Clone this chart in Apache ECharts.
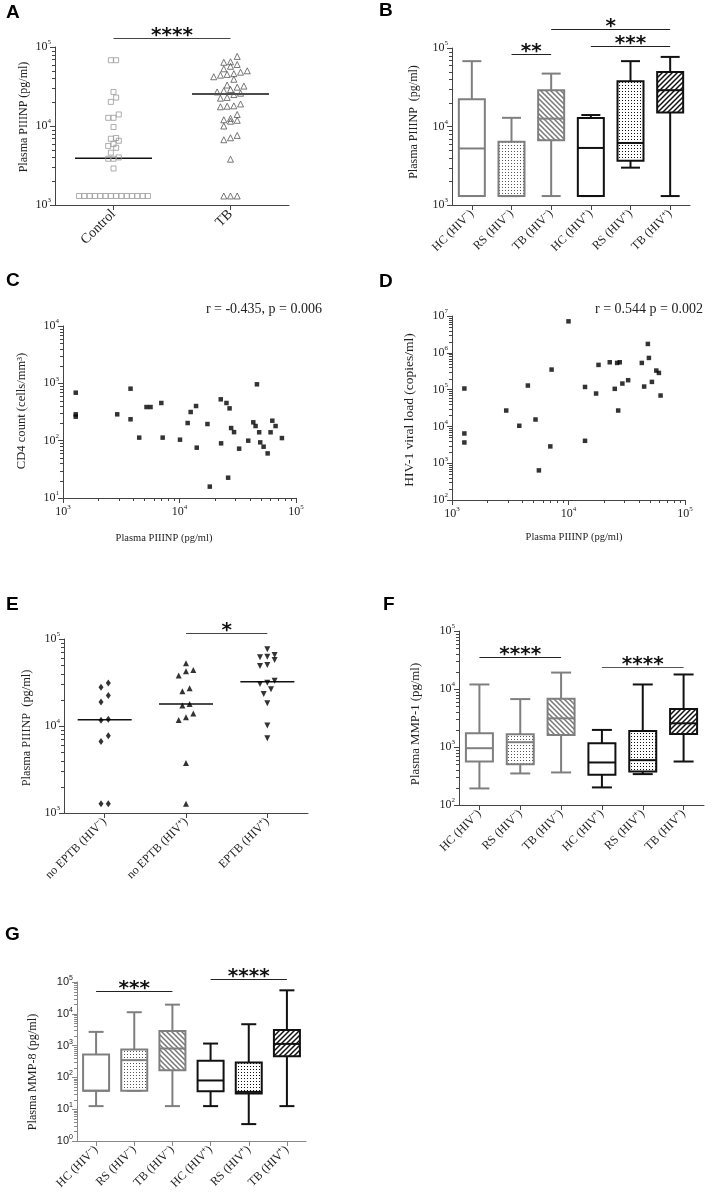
<!DOCTYPE html>
<html>
<head>
<meta charset="utf-8">
<script src="https://cdn.jsdelivr.net/npm/echarts@6/dist/echarts.min.js"></script>
<style>
html, body { margin: 0; padding: 0; background: #fff; }
#main { width: 712px; height: 1202px; }
</style>
</head>
<body>
<div id="main"></div>
<script>
// ---- data ----
var groupsA = ['Control', 'TB'];
var controlA = [68000, 68000, 27000, 22900, 20200, 14000, 12700, 12700, 9700, 7060, 6900, 6500, 5900, 5600, 5300, 4600, 4000, 3850, 3850, 2900,
    1300, 1300, 1300, 1300, 1300, 1300, 1300, 1300, 1300, 1300, 1300, 1300, 1300, 1300];
var tbA = [76000, 65000, 64000, 60000, 57000, 53000, 50000, 48000, 46000, 45000, 44000, 42000, 39000, 33000, 32000, 31000, 29000, 28000, 27000, 26000,
    25000, 23000, 22500, 19000, 18000, 17800, 17500, 14000, 12500, 12000, 11800, 11500, 10000, 7600, 7100, 6700, 3800, 1300, 1300, 1300];
var medianA = [3900, 25500];

var boxGroups = ['HC (HIV\u207B)', 'RS (HIV\u207B)', 'TB (HIV\u207B)', 'HC (HIV\u207A)', 'RS (HIV\u207A)', 'TB (HIV\u207A)'];
// [min, q1, median, q3, max]
var piiinpB = [
    [1300, 1300, 5250, 22200, 68000],
    [1300, 1300, 1300, 6400, 12900],
    [1300, 6700, 12600, 28900, 47200],
    [1300, 1300, 5330, 12800, 14000],
    [2990, 3660, 6170, 37700, 68000],
    [1300, 15100, 29000, 49500, 77000]
];

// [PIIINP, CD4]
var cd4C = [[1286, 687], [1286, 288], [1286, 262], [2920, 288], [3800, 807], [3800, 236], [4510, 113], [5210, 386], [5640, 386], [6980, 454],
    [7170, 113], [10100, 104], [11750, 203], [12470, 316], [13870, 402], [14060, 75.5], [17380, 195], [18200, 15.8], [22600, 526], [22750, 89.8],
    [25300, 454], [26150, 22.6], [26900, 366], [27750, 166], [29400, 141], [32500, 72.5], [38900, 100], [43000, 209], [45000, 180], [46200, 962],
    [48300, 140], [49300, 93.4], [52700, 78.5], [57100, 60], [60500, 140], [62600, 223], [66800, 180], [75700, 111]];

// [PIIINP, viral load]
var viralD = [[1277, 107000], [1277, 6430], [1277, 3660], [2920, 27000], [3780, 10400], [4480, 129000], [5210, 15400], [5570, 638], [6980, 2860],
    [7160, 350000], [10000, 7160000], [13860, 118000], [13860, 4060], [17250, 78200], [18100, 469000], [22600, 553000], [24950, 105000],
    [26150, 531000], [26700, 27000], [27550, 553000], [29000, 146000], [32500, 180000], [42600, 531000], [44600, 121000], [48000, 1740000],
    [49000, 726000], [52000, 162000], [56700, 329000], [59700, 284000], [61700, 69000]];

var groupsE = ['no EPTB (HIV\u207B)', 'no EPTB (HIV\u207A)', 'EPTB (HIV\u207A)'];
var noEptbNeg = [31200, 27900, 22400, 18900, 11970, 11660, 7710, 6640, 1280, 1280];
var noEptbPos = [52600, 44000, 42600, 38000, 27200, 25100, 17900, 17200, 13900, 12600, 11750, 3750, 1280];
var eptbPos = [76200, 65500, 62700, 61600, 57400, 50100, 48900, 33100, 31500, 30400, 26400, 23300, 18200, 10100, 7220];
var medianE = [11800, 17900, 32300];

var mmp1F = [
    [193, 562, 953, 1725, 11970],
    [350, 506, 1210, 1660, 6700],
    [364, 1615, 3120, 6790, 19200],
    [201, 332, 541, 1160, 1970],
    [341, 379, 593, 1890, 11970],
    [562, 1680, 2560, 4520, 17800]
];
var mmp8G = [
    [12.5, 38, 38, 525, 2700],
    [38, 38, 349, 753, 11200],
    [12.5, 169, 810, 2900, 19400],
    [12.5, 37, 80, 332, 1160],
    [3.4, 31, 35, 294, 4700],
    [12.5, 465, 1130, 3120, 54700]
];

var sigPairsA = [[0, 1]], sigLabelsA = ['****'];
var sigPairsB = [[1, 2], [2, 5], [3, 5]], sigLabelsB = ['**', '*', '***'];
var sigPairsE = [[1, 2]], sigLabelsE = ['*'];
var sigPairsF = [[0, 2], [3, 5]], sigLabelsF = ['****', '****'];
var sigPairsG = [[0, 2], [3, 5]], sigLabelsG = ['***', '****'];

// ---- styling helpers ----
var SERIF = "'Liberation Serif', 'Times New Roman', serif";
var SANS = "'Liberation Sans', Arial, sans-serif";
var GREY = '#7f7f7f', BLACK = '#111';

function dotPattern(color) {
    var c = document.createElement('canvas');
    c.width = 3; c.height = 3;
    var g = c.getContext('2d');
    g.fillStyle = '#fff'; g.fillRect(0, 0, 3, 3);
    g.fillStyle = color; g.fillRect(1, 1, 1, 1);
    return {image: c, repeat: 'repeat'};
}
function hatchPattern(color, rising) {
    var s = 5;
    var c = document.createElement('canvas');
    c.width = s; c.height = s;
    var g = c.getContext('2d');
    g.fillStyle = '#fff'; g.fillRect(0, 0, s, s);
    g.strokeStyle = color; g.lineWidth = 1.5;
    g.beginPath();
    if (rising) {
        g.moveTo(0, s); g.lineTo(s, 0);
        g.moveTo(-1, 1); g.lineTo(1, -1);
        g.moveTo(s - 1, s + 1); g.lineTo(s + 1, s - 1);
    } else {
        g.moveTo(0, 0); g.lineTo(s, s);
        g.moveTo(-1, s - 1); g.lineTo(1, s + 1);
        g.moveTo(s - 1, -1); g.lineTo(s + 1, 1);
    }
    g.stroke();
    return {image: c, repeat: 'repeat'};
}

var boxColors = [GREY, GREY, GREY, BLACK, BLACK, BLACK];
var boxFills = ['#fff', dotPattern('#555'), hatchPattern('#777', false), '#fff', dotPattern('#111'), hatchPattern('#111', true)];

function powLabel(v) {
    return '{b|10}{s|' + Math.round(Math.log(v) / Math.LN10) + '}';
}
function powRich(family, size, color) {
    return {
        b: {fontFamily: family, fontSize: size, color: color, lineHeight: size + 4},
        s: {fontFamily: family, fontSize: Math.round(size * 0.62), color: color, verticalAlign: 'top'}
    };
}

function logYAxis(grid, min, max, opts) {
    opts = opts || {};
    var col = opts.color || '#444';
    return {
        type: 'log', logBase: 10, gridIndex: grid, min: min, max: max,
        axisLine: {show: true, onZero: false, lineStyle: {color: col, width: 1}},
        axisTick: {show: true, length: 5, lineStyle: {color: col}},
        splitLine: {show: false},
        axisLabel: {formatter: powLabel, margin: 4, rich: powRich(opts.family || SERIF, opts.size || 12, '#222')}
    };
}
function logXAxis(grid, min, max) {
    return {
        type: 'log', logBase: 10, gridIndex: grid, min: min, max: max,
        axisLine: {show: true, onZero: false, lineStyle: {color: '#444'}},
        axisTick: {show: true, length: 5, lineStyle: {color: '#444'}},
        splitLine: {show: false},
        axisLabel: {formatter: powLabel, margin: 6, rich: powRich(SERIF, 12, '#222')}
    };
}
function catXAxis(grid, cats, size, color) {
    return {
        type: 'category', gridIndex: grid, data: cats,
        axisLine: {show: true, onZero: false, lineStyle: {color: color || '#444'}},
        axisTick: {show: true, alignWithLabel: true, length: 5, lineStyle: {color: color || '#444'}},
        splitLine: {show: false},
        axisLabel: {rotate: 45, interval: 0, margin: 7, fontFamily: SERIF, fontSize: size, color: '#222'}
    };
}
function hiddenXAxis(grid, n) {
    return {type: 'value', gridIndex: grid, min: -0.5, max: n - 0.5, show: false};
}

// simple row-wise swarm: values close together are spread sideways
function swarm(vals, idx, pxPerDecade, pxPerCat, rowGap, colGap) {
    var sorted = vals.slice().sort(function (a, b) { return a - b; });
    var rows = [], cur = [];
    sorted.forEach(function (v) {
        if (cur.length && (Math.log(v) - Math.log(cur[0])) / Math.LN10 * pxPerDecade > rowGap) {
            rows.push(cur); cur = [];
        }
        cur.push(v);
    });
    if (cur.length) rows.push(cur);
    var out = [];
    rows.forEach(function (r) {
        r.forEach(function (v, i) {
            out.push([idx + (i - (r.length - 1) / 2) * colGap / pxPerCat, v]);
        });
    });
    return out;
}

function minorValues(lo, hi) {
    var out = [];
    for (var e = lo; e < hi; e++) {
        for (var m = 2; m <= 9; m++) out.push(m * Math.pow(10, e));
    }
    return out;
}

function minorTicks(xi, yi, xRef, yRef, yVals, xVals, color) {
    return {
        type: 'custom', xAxisIndex: xi, yAxisIndex: yi, silent: true, z: 1,
        data: [[xRef, yRef]], encode: {x: 0, y: 1},
        renderItem: function (params, api) {
            var cs = params.coordSys, ch = [];
            yVals.forEach(function (v) {
                var y = Math.round(api.coord([xRef, v])[1]) + 0.5;
                ch.push({type: 'line', shape: {x1: cs.x - 3, y1: y, x2: cs.x, y2: y}, style: {stroke: color, lineWidth: 1}});
            });
            xVals.forEach(function (v) {
                var x = Math.round(api.coord([v, yRef])[0]) + 0.5, yb = cs.y + cs.height;
                ch.push({type: 'line', shape: {x1: x, y1: yb, x2: x, y2: yb + 3}, style: {stroke: color, lineWidth: 1}});
            });
            return {type: 'group', children: ch};
        }
    };
}

function medianLines(xi, yi, meds, halfW) {
    return {
        type: 'custom', xAxisIndex: xi, yAxisIndex: yi, silent: true, z: 3,
        data: meds.map(function (m, i) { return [i, m]; }), encode: {x: 0, y: 1},
        renderItem: function (params, api) {
            var p = api.coord([api.value(0), api.value(1)]);
            return {type: 'line', shape: {x1: p[0] - halfW, y1: p[1], x2: p[0] + halfW, y2: p[1]},
                style: {stroke: '#111', lineWidth: 1.5}};
        }
    };
}

function sigBars(xi, yi, pairs, labels, barY, yRef, colors) {
    return {
        type: 'custom', xAxisIndex: xi, yAxisIndex: yi, silent: true,
        data: pairs.map(function (p) { return [p[0], p[1], yRef]; }), encode: {x: [0, 1], y: 2},
        renderItem: function (params, api) {
            var i = params.dataIndex;
            var x0 = api.coord([api.value(0), yRef])[0], x1 = api.coord([api.value(1), yRef])[0];
            var y = barY[i] + 0.5, c = colors ? colors[i] : '#222';
            return {type: 'group', children: [
                {type: 'line', shape: {x1: x0, y1: y, x2: x1, y2: y}, style: {stroke: c, lineWidth: 1.2}},
                {type: 'text', x: (x0 + x1) / 2, y: y - 2.5, style: {text: labels[i], fill: '#111', align: 'center', verticalAlign: 'middle',
                    fontFamily: "'DejaVu Sans', sans-serif", fontWeight: 'bold', fontSize: 20}}
            ]};
        }
    };
}

function boxSeries(xi, yi, boxes, boxW, capW) {
    return {
        type: 'custom', xAxisIndex: xi, yAxisIndex: yi, z: 2,
        data: boxes.map(function (b, i) { return [i].concat(b); }),
        encode: {x: 0, y: [1, 2, 3, 4, 5]},
        renderItem: function (params, api) {
            var i = api.value(0);
            var pMin = api.coord([i, api.value(1)]), pQ1 = api.coord([i, api.value(2)]), pMed = api.coord([i, api.value(3)]),
                pQ3 = api.coord([i, api.value(4)]), pMax = api.coord([i, api.value(5)]);
            var cx = pMin[0], c = boxColors[i];
            var ls = {stroke: c, lineWidth: 2};
            return {type: 'group', children: [
                {type: 'line', shape: {x1: cx, y1: pMax[1], x2: cx, y2: pQ3[1]}, style: ls},
                {type: 'line', shape: {x1: cx, y1: pQ1[1], x2: cx, y2: pMin[1]}, style: ls},
                {type: 'line', shape: {x1: cx - capW / 2, y1: pMax[1], x2: cx + capW / 2, y2: pMax[1]}, style: ls},
                {type: 'line', shape: {x1: cx - capW / 2, y1: pMin[1], x2: cx + capW / 2, y2: pMin[1]}, style: ls},
                {type: 'rect', shape: {x: cx - boxW / 2, y: pQ3[1], width: boxW, height: pQ1[1] - pQ3[1]},
                    style: {fill: boxFills[i], stroke: c, lineWidth: 2}},
                {type: 'line', shape: {x1: cx - boxW / 2, y1: pMed[1], x2: cx + boxW / 2, y2: pMed[1]}, style: ls}
            ]};
        }
    };
}

function hollow(name, xi, yi, data, symbol, size, color) {
    return {type: 'scatter', name: name, xAxisIndex: xi, yAxisIndex: yi, data: data, symbol: symbol, symbolSize: size,
        itemStyle: {color: 'rgba(0,0,0,0)', borderColor: color, borderWidth: 1}, z: 4};
}
function solid(name, xi, yi, data, symbol, size, rotate) {
    return {type: 'scatter', name: name, xAxisIndex: xi, yAxisIndex: yi, data: data, symbol: symbol, symbolSize: size,
        symbolRotate: rotate || 0, itemStyle: {color: '#000'}, z: 4};
}

function panelLetter(t, x, y) {
    return {type: 'text', x: x, y: y, style: {text: t, fill: '#000', font: 'bold 19px ' + SANS, verticalAlign: 'top'}};
}
function yTitle(t, x, y, size) {
    return {type: 'text', x: x, y: y, rotation: Math.PI / 2,
        style: {text: t, fill: '#222', font: size + 'px ' + SERIF, align: 'center', verticalAlign: 'middle'}};
}
function hTitle(t, x, y, size, align) {
    return {type: 'text', x: x, y: y,
        style: {text: t, fill: '#222', font: size + 'px ' + SERIF, align: align || 'center', verticalAlign: 'middle'}};
}

var chart = echarts.init(document.getElementById('main'));

var option = {
    animation: false,
    backgroundColor: '#fff',
    grid: [
        {left: 55, top: 47, width: 234, height: 158, outerBoundsMode: 'none'},
        {left: 452, top: 48, width: 238, height: 157, outerBoundsMode: 'none'},
        {left: 63, top: 326, width: 233, height: 172, outerBoundsMode: 'none'},
        {left: 452, top: 316, width: 233, height: 184, outerBoundsMode: 'none'},
        {left: 64, top: 639, width: 244, height: 174, outerBoundsMode: 'none'},
        {left: 459, top: 631, width: 245, height: 174, outerBoundsMode: 'none'},
        {left: 77, top: 982, width: 229, height: 159, outerBoundsMode: 'none'}
    ],
    xAxis: [
        catXAxis(0, groupsA, 14),
        hiddenXAxis(0, 2),
        catXAxis(1, boxGroups, 12),
        logXAxis(2, 1e3, 1e5),
        logXAxis(3, 1e3, 1e5),
        catXAxis(4, groupsE, 12),
        hiddenXAxis(4, 3),
        catXAxis(5, boxGroups, 12),
        catXAxis(6, boxGroups, 12, '#888')
    ],
    yAxis: [
        logYAxis(0, 1e3, 1e5),
        logYAxis(1, 1e3, 1e5),
        logYAxis(2, 1e1, 1e4),
        logYAxis(3, 1e2, 1e7),
        logYAxis(4, 1e3, 1e5),
        logYAxis(5, 1e2, 1e5),
        logYAxis(6, 1e0, 1e5, {family: SANS, size: 11, color: '#888'})
    ],
    series: [
        // A
        hollow('Control', 1, 0, swarm(controlA, 0, 79, 117, 6, 5.3), 'rect', 5, '#999'),
        hollow('TB', 1, 0, swarm(tbA, 1, 79, 117, 6, 6.7), 'triangle', 6, '#555'),
        medianLines(0, 0, medianA, 38.5),
        sigBars(0, 0, sigPairsA, sigLabelsA, [38], 1e3, ['#444']),
        minorTicks(0, 0, 0, 1e3, minorValues(3, 5), [], '#444'),
        // B
        boxSeries(2, 1, piiinpB, 26, 19),
        sigBars(2, 1, sigPairsB, sigLabelsB, [54, 29, 46], 1e3),
        minorTicks(2, 1, 0, 1e3, minorValues(3, 5), [], '#444'),
        // C
        solid('CD4', 3, 2, cd4C, 'rect', 4.5),
        minorTicks(3, 2, 1e3, 1e1, minorValues(1, 4), minorValues(3, 5), '#444'),
        // D
        solid('Viral load', 4, 3, viralD, 'rect', 4.5),
        minorTicks(4, 3, 1e3, 1e2, minorValues(2, 7), minorValues(3, 5), '#444'),
        // E
        solid('no EPTB (HIV-)', 6, 4, swarm(noEptbNeg, 0, 87, 81.3, 7, 7.3), 'diamond', [5, 7]),
        solid('no EPTB (HIV+)', 6, 4, swarm(noEptbPos, 1, 87, 81.3, 7, 7.3), 'triangle', 6),
        solid('EPTB (HIV+)', 6, 4, swarm(eptbPos, 2, 87, 81.3, 7, 7.3), 'triangle', 6, 180),
        medianLines(5, 4, medianE, 27),
        sigBars(5, 4, sigPairsE, sigLabelsE, [633], 1e3, ['#444']),
        minorTicks(5, 4, 0, 1e3, minorValues(3, 5), [], '#444'),
        // F
        boxSeries(7, 5, mmp1F, 27, 20),
        sigBars(7, 5, sigPairsF, sigLabelsF, [657, 667], 1e2, ['#222', '#555']),
        minorTicks(7, 5, 0, 1e2, minorValues(2, 5), [], '#444'),
        // G
        boxSeries(8, 6, mmp8G, 26, 15),
        sigBars(8, 6, sigPairsG, sigLabelsG, [991, 979], 1e0),
        minorTicks(8, 6, 0, 1e0, minorValues(0, 5), [], '#888')
    ],
    graphic: [
        panelLetter('A', 6, 3), panelLetter('B', 379, 1), panelLetter('C', 6, 271),
        panelLetter('D', 379, 272), panelLetter('E', 6, 595), panelLetter('F', 383, 595), panelLetter('G', 5, 925),
        yTitle('Plasma PIIINP (pg/ml)', 24, 117, 12),
        yTitle('Plasma PIIINP  (pg/ml)', 414, 122, 12),
        yTitle('CD4 count (cells/mm\u00B3)', 22, 411, 12.6),
        yTitle('HIV-1 viral load (copies/ml)', 409, 410, 13.5),
        yTitle('Plasma PIIINP  (pg/ml)', 27, 728, 12.3),
        yTitle('Plasma MMP-1 (pg/ml)', 416, 724, 12.8),
        yTitle('Plasma MMP-8 (pg/ml)', 33, 1072, 12.2),
        hTitle('Plasma PIIINP (pg/ml)', 164, 538, 10.5),
        hTitle('Plasma PIIINP (pg/ml)', 574, 537, 10.5),
        hTitle('r = -0.435, p = 0.006', 322, 309, 14, 'right'),
        hTitle('r = 0.544 p = 0.002', 703, 309, 14, 'right')
    ]
};

chart.setOption(option);
</script>
</body>
</html>
